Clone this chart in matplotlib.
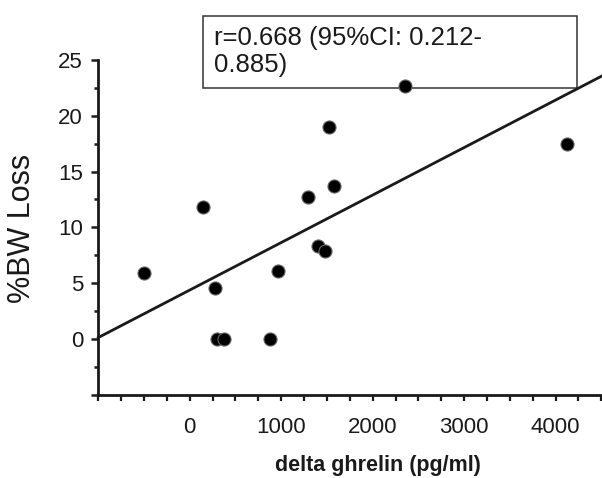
import matplotlib
matplotlib.use("Agg")
import matplotlib.pyplot as plt
from matplotlib.patches import Rectangle
from matplotlib.ticker import MultipleLocator, FixedLocator
import numpy as np

INK = "#1a1a1a"

plt.rcParams.update({
    "font.family": ["Liberation Sans", "DejaVu Sans"],
    "text.color": INK,
    "xtick.color": INK,
    "ytick.color": INK,
})

# delta ghrelin (pg/ml) vs %BW loss
delta_ghrelin = [2350, 1520, 4120, 1580, 1290, 140, -500, 280, 960,
                 1400, 1480, 300, 370, 880]
bw_loss = [22.7, 19.0, 17.5, 13.7, 12.7, 11.8, 5.9, 4.6, 6.1,
           8.3, 7.9, 0.0, 0.0, 0.0]
x_ticks = [0, 1000, 2000, 3000, 4000]
y_ticks = [0, 5, 10, 15, 20, 25]
annot = "r=0.668 (95%CI: 0.212-\n0.885)"

fig = plt.figure(figsize=(6.02, 4.78), dpi=100)
fig.patch.set_facecolor("white")
ax = fig.add_axes([0.1633, 0.1741, 0.8355, 0.7004])
ax.patch.set_visible(False)

x = np.array(delta_ghrelin, dtype=float)
y = np.array(bw_loss, dtype=float)

# linear regression line across the whole x range
slope, icpt = np.polyfit(x, y, 1)
xl = np.array([-1000, 4500])
ax.plot(xl, slope * xl + icpt, color=INK, lw=2.0, zorder=2, clip_on=False)

ax.plot(x, y, "o", ms=9.4, mfc="black", mec="#666666", mew=0.8, zorder=3,
        clip_on=False)

ax.set_xlim(-1000, 4500)
ax.set_ylim(-5, 25)

ax.xaxis.set_major_locator(FixedLocator([-1000] + x_ticks))
ax.set_xticklabels([""] + [str(t) for t in x_ticks])
ax.xaxis.set_minor_locator(MultipleLocator(250))
ax.yaxis.set_major_locator(FixedLocator([-5] + y_ticks))
ax.set_yticklabels([""] + [str(t) for t in y_ticks])
ax.yaxis.set_minor_locator(MultipleLocator(2.5))

ax.tick_params(axis="x", which="both", direction="out", length=4, width=1.6,
               pad=12, labelsize=16)
ax.tick_params(axis="y", which="major", direction="out", length=5, width=1.8,
               pad=6, labelsize=16)
ax.tick_params(axis="y", which="minor", direction="out", length=3, width=1.8)

for s in ["top", "right"]:
    ax.spines[s].set_visible(False)
for s in ["left", "bottom"]:
    ax.spines[s].set_linewidth(2.0)
    ax.spines[s].set_color(INK)

fig.text(22 / 602, 1 - 228 / 478, "%BW Loss", rotation=90, fontsize=22,
         ha="center", va="center")
fig.text(378 / 602, 1 - 466 / 478, "delta ghrelin (pg/ml)", fontsize=15.5,
         fontweight="bold", ha="center", va="center")

# annotation box, drawn behind the axes so the top point sits over its edge
fig.add_artist(Rectangle((203.3 / 602, 1 - 88.3 / 478), (577 - 203.3) / 602,
                         (88.3 - 16) / 478, transform=fig.transFigure,
                         facecolor="white", edgecolor="#333333", lw=1.1,
                         zorder=-1))
fig.text(214 / 602, 1 - 26 / 478, annot, fontsize=18.5, ha="left", va="top",
         linespacing=1.15, zorder=6)

fig.savefig("out.png", dpi=100, facecolor="white")
